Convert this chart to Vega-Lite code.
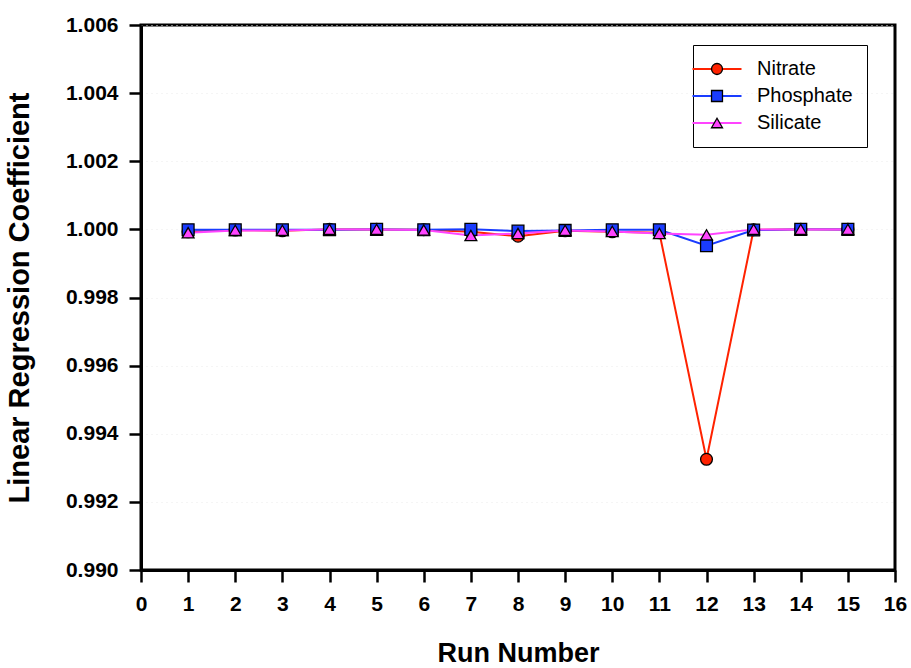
{
  "$schema": "https://vega.github.io/schema/vega-lite/v6.json",
  "autosize": "none",
  "width": 754,
  "height": 545,
  "padding": {"left": 141, "top": 25, "right": 16, "bottom": 98},
  "background": "white",
  "config": {
    "view": {"stroke": "black", "strokeWidth": 3},
    "font": "Liberation Sans"
  },
  "data": {
    "values": [
      {"run": 1, "series": "Nitrate", "value": 0.99993},
      {"run": 2, "series": "Nitrate", "value": 0.99998},
      {"run": 3, "series": "Nitrate", "value": 0.99996},
      {"run": 4, "series": "Nitrate", "value": 1.00000},
      {"run": 5, "series": "Nitrate", "value": 1.00000},
      {"run": 6, "series": "Nitrate", "value": 0.99999},
      {"run": 7, "series": "Nitrate", "value": 0.99993},
      {"run": 8, "series": "Nitrate", "value": 0.99980},
      {"run": 9, "series": "Nitrate", "value": 0.99996},
      {"run": 10, "series": "Nitrate", "value": 0.99993},
      {"run": 11, "series": "Nitrate", "value": 0.99990},
      {"run": 12, "series": "Nitrate", "value": 0.99325},
      {"run": 13, "series": "Nitrate", "value": 0.99999},
      {"run": 14, "series": "Nitrate", "value": 1.00000},
      {"run": 15, "series": "Nitrate", "value": 1.00000},
      {"run": 1, "series": "Phosphate", "value": 0.99999},
      {"run": 2, "series": "Phosphate", "value": 0.99999},
      {"run": 3, "series": "Phosphate", "value": 0.99999},
      {"run": 4, "series": "Phosphate", "value": 0.99999},
      {"run": 5, "series": "Phosphate", "value": 1.00000},
      {"run": 6, "series": "Phosphate", "value": 0.99999},
      {"run": 7, "series": "Phosphate", "value": 1.00000},
      {"run": 8, "series": "Phosphate", "value": 0.99995},
      {"run": 9, "series": "Phosphate", "value": 0.99997},
      {"run": 10, "series": "Phosphate", "value": 0.99999},
      {"run": 11, "series": "Phosphate", "value": 0.99999},
      {"run": 12, "series": "Phosphate", "value": 0.99952},
      {"run": 13, "series": "Phosphate", "value": 0.99998},
      {"run": 14, "series": "Phosphate", "value": 1.00000},
      {"run": 15, "series": "Phosphate", "value": 1.00000},
      {"run": 1, "series": "Silicate", "value": 0.99990},
      {"run": 2, "series": "Silicate", "value": 0.99997},
      {"run": 3, "series": "Silicate", "value": 0.99997},
      {"run": 4, "series": "Silicate", "value": 1.00000},
      {"run": 5, "series": "Silicate", "value": 1.00000},
      {"run": 6, "series": "Silicate", "value": 0.99998},
      {"run": 7, "series": "Silicate", "value": 0.99982},
      {"run": 8, "series": "Silicate", "value": 0.99988},
      {"run": 9, "series": "Silicate", "value": 0.99997},
      {"run": 10, "series": "Silicate", "value": 0.99994},
      {"run": 11, "series": "Silicate", "value": 0.99988},
      {"run": 12, "series": "Silicate", "value": 0.99984},
      {"run": 13, "series": "Silicate", "value": 1.00000},
      {"run": 14, "series": "Silicate", "value": 1.00000},
      {"run": 15, "series": "Silicate", "value": 1.00000}
    ]
  },
  "encoding": {
    "x": {
      "field": "run", "type": "quantitative",
      "scale": {"domain": [0, 16], "nice": false, "zero": false},
      "axis": {
        "title": "Run Number", "titleFont": "Liberation Sans", "titleFontSize": 27, "titleFontWeight": "bold", "titleColor": "black", "titlePadding": 26,
        "values": [0,1,2,3,4,5,6,7,8,9,10,11,12,13,14,15,16],
        "labelFont": "Liberation Sans", "labelFontSize": 21, "labelFontWeight": "bold", "labelColor": "black", "labelPadding": 11,
        "tickColor": "black", "tickWidth": 2.5, "tickSize": 12,
        "domainColor": "black", "domainWidth": 3, "grid": false, "labelFlush": false
      }
    },
    "y": {
      "field": "value", "type": "quantitative",
      "scale": {"domain": [0.990, 1.006], "nice": false, "zero": false},
      "axis": {
        "title": "Linear Regression Coefficient", "titleFont": "Liberation Sans", "titleFontSize": 29, "titleFontWeight": "bold", "titleColor": "black", "titlePadding": 31,
        "values": [0.990, 0.992, 0.994, 0.996, 0.998, 1.000, 1.002, 1.004, 1.006],
        "format": ".3f",
        "labelFont": "Liberation Sans", "labelFontSize": 21, "labelFontWeight": "bold", "labelColor": "black", "labelPadding": 11,
        "tickColor": "black", "tickWidth": 2.5, "tickSize": 12,
        "domainColor": "black", "domainWidth": 3,
        "grid": true, "gridColor": "#ebebeb", "gridDash": [1, 4], "gridWidth": 1, "labelFlush": false
      }
    }
  },
  "layer": [
    {
      "mark": {"type": "line", "strokeWidth": 2},
      "encoding": {
        "stroke": {
          "field": "series", "type": "nominal",
          "scale": {"domain": ["Nitrate", "Phosphate", "Silicate"], "range": ["#ff2200", "#1a3cff", "#ff44ff"]},
          "legend": {
            "title": null, "orient": "none", "legendX": 552, "legendY": 20,
            "symbolType": "M-4.9,0H4.9", "symbolSize": 100, "symbolStrokeWidth": 2,
            "labelFont": "Liberation Sans", "labelFontSize": 20, "labelColor": "black", "labelOffset": 30,
            "strokeColor": "black", "padding": 14, "rowPadding": 7
          }
        }
      }
    },
    {
      "mark": {"type": "point", "filled": true, "size": 140, "stroke": "black", "strokeWidth": 1.3, "opacity": 1},
      "encoding": {
        "fill": {
          "field": "series", "type": "nominal",
          "scale": {"range": ["#ff2200", "#1a3cff", "#ff44ff"]},
          "legend": {
            "title": null, "orient": "none", "legendX": 552, "legendY": 20,
            "symbolSize": 120, "symbolStrokeColor": "black", "symbolStrokeWidth": 1.3, "symbolOpacity": 1,
            "labelFont": "Liberation Sans", "labelFontSize": 20, "labelExpr": "''",
            "padding": 14, "rowPadding": 7
          }
        },
        "shape": {
          "field": "series", "type": "nominal",
          "scale": {"range": ["circle", "square", "triangle-up"]}
        }
      }
    }
  ]
}
